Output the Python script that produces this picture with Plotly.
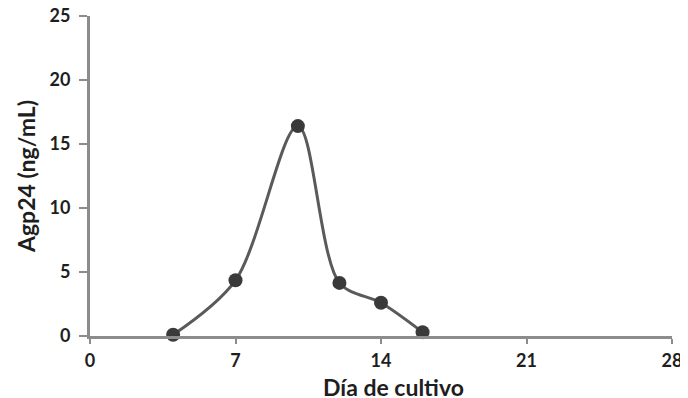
import plotly.graph_objects as go

dias = [4, 7, 10, 12, 14, 16]
agp24 = [0.1, 4.35, 16.4, 4.15, 2.6, 0.3]
x_ticks = [0, 7, 14, 21, 28]
y_ticks = [0, 5, 10, 15, 20, 25]
x_title = "Día de cultivo"
y_title = "Agp24 (ng/mL)"

fig = go.Figure()
fig.add_trace(go.Scatter(
    x=dias, y=agp24, mode="lines+markers",
    line=dict(color="#5a5a5a", width=3, shape="spline", smoothing=0.9),
    marker=dict(color="#3a3a3a", size=14),
    showlegend=False, cliponaxis=False,
))

font_fam = "Lato, Open Sans, sans-serif"
fig.update_layout(
    width=680, height=390,
    margin=dict(l=82, r=16, t=8, b=62),
    paper_bgcolor="white", plot_bgcolor="white",
    font=dict(family=font_fam, color="#1e1e1e"),
    xaxis=dict(
        range=[0, 28], tickvals=x_ticks, ticktext=[str(v) for v in x_ticks],
        showgrid=False, zeroline=False, showline=True, linecolor="#8c8c8c", linewidth=3,
        ticks="outside", ticklen=5, tickwidth=2, tickcolor="#8c8c8c", automargin=False,
        ticklabeloverflow="allow", ticklabelstandoff=1,
        tickfont=dict(size=18, family=font_fam, color="#1e1e1e", weight="bold"),
    ),
    yaxis=dict(
        range=[0, 25], tickvals=y_ticks, ticktext=[str(v) for v in y_ticks],
        showgrid=False, zeroline=False, showline=True, linecolor="#8c8c8c", linewidth=3,
        ticks="outside", ticklen=8, tickwidth=2, tickcolor="#8c8c8c", automargin=False,
        ticklabeloverflow="allow", ticklabelstandoff=5,
        tickfont=dict(size=18, family=font_fam, color="#1e1e1e", weight="bold"),
        title=dict(text="<b>" + y_title + "</b>", font=dict(size=23, family=font_fam, color="#1e1e1e"), standoff=8),
    ),
    annotations=[dict(
        text="<b>" + x_title + "</b>", xref="paper", yref="paper", x=0.522, y=0,
        xanchor="center", yanchor="middle", yshift=-51, showarrow=False,
        font=dict(size=23, family=font_fam, color="#1e1e1e"),
    )],
)
fig.write_html("out.html")
